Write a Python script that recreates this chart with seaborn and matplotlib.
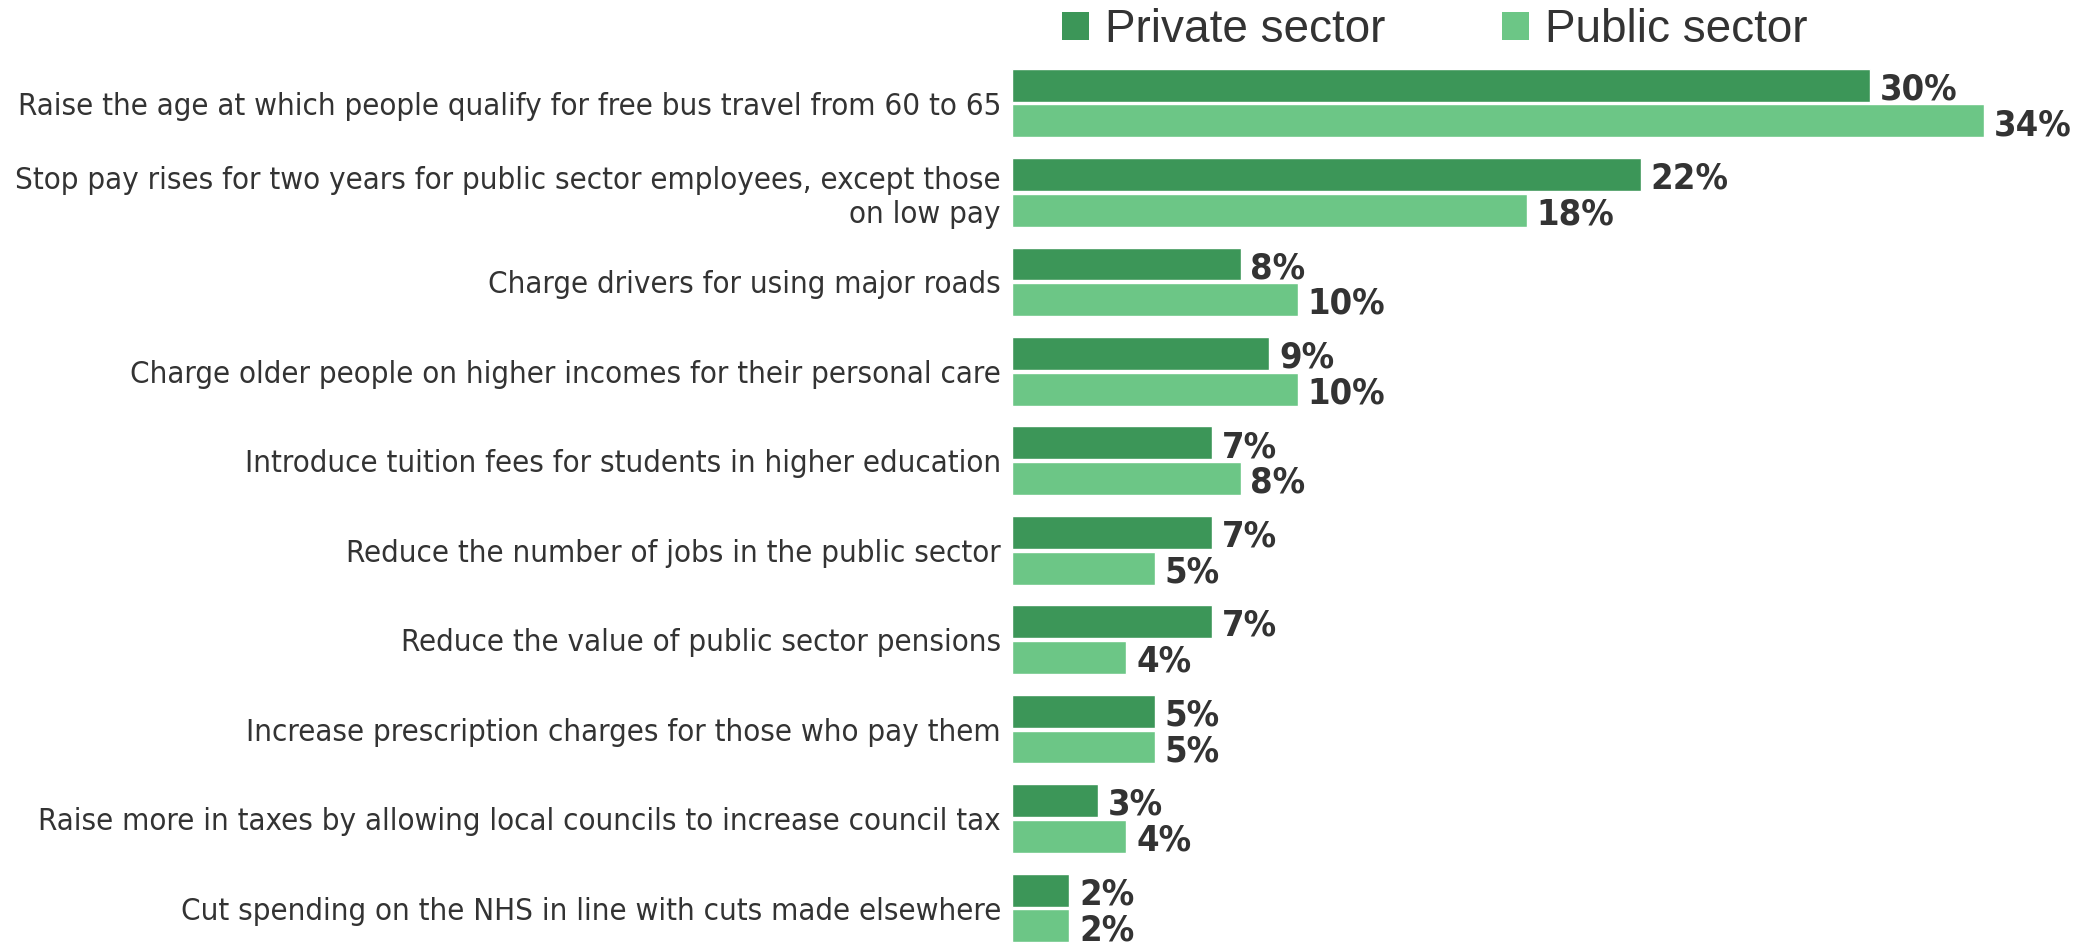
import matplotlib
matplotlib.use('Agg')
import matplotlib.pyplot as plt
from matplotlib import font_manager
from matplotlib.patches import Patch
import seaborn as sns
import pandas as pd

# Veriler
kategoriler = [
    'Raise the age at which people qualify for free bus travel from 60 to 65',
    'Stop pay rises for two years for public sector employees, except those\non low pay',
    'Charge drivers for using major roads',
    'Charge older people on higher incomes for their personal care',
    'Introduce tuition fees for students in higher education',
    'Reduce the number of jobs in the public sector',
    'Reduce the value of public sector pensions',
    'Increase prescription charges for those who pay them',
    'Raise more in taxes by allowing local councils to increase council tax',
    'Cut spending on the NHS in line with cuts made elsewhere',
]
ozel_sektor = [30, 22, 8, 9, 7, 7, 7, 5, 3, 2]
kamu_sektoru = [34, 18, 10, 10, 8, 5, 4, 5, 4, 2]
seriler = ['Private sector', 'Public sector']
renkler = ['#3c9658', '#6cc686']
yazi_rengi = '#333333'

sns.set_style('white')

# Dar font varsa onu kullan
isimler = {f.name for f in font_manager.fontManager.ttflist}
if 'Liberation Sans Narrow' in isimler:
    aile = 'Liberation Sans Narrow'
    gerilme = 'normal'
else:
    aile = 'DejaVu Sans'
    gerilme = 'condensed'
plt.rcParams['font.family'] = [aile, 'DejaVu Sans']
plt.rcParams['font.stretch'] = gerilme

df = pd.DataFrame({
    'Kategori': kategoriler * 2,
    'Deger': ozel_sektor + kamu_sektoru,
    'Seri': [seriler[0]] * len(kategoriler) + [seriler[1]] * len(kategoriler),
})

fig = plt.figure(figsize=(20.74, 9.47), dpi=100)
ax = fig.add_axes([1012 / 2074, 0.0, (1984 - 1012) / 2074, 1 - 58.3 / 947])

sns.barplot(data=df, y='Kategori', x='Deger', hue='Seri', orient='h',
            palette=renkler, width=0.8, gap=0.08, ax=ax, legend=False,
            saturation=1)

ax.set_xlim(0, 34)
ax.set_ylim(9.436, -0.5)
ax.set_xlabel('')
ax.set_ylabel('')
ax.set_xticks([])
sns.despine(ax=ax, left=True, bottom=True)
ax.tick_params(axis='y', length=0, pad=8, labelsize=22.4, labelcolor=yazi_rengi)

# Değer etiketleri
for cont in ax.containers:
    etiketler = ax.bar_label(cont, fmt='%d%%', padding=7, fontsize=26,
                             fontweight='bold', color=yazi_rengi, clip_on=False)
    for t in etiketler:
        x0, y0 = t.xyann
        t.xyann = (x0, y0 - 3)

tutamaclar = [Patch(facecolor=r, edgecolor='none') for r in renkler]
fig.legend(tutamaclar, seriler, loc='upper left', bbox_to_anchor=(1062 / 2074, 1 - 8 / 947),
           ncol=2, frameon=False, borderpad=0, borderaxespad=0,
           prop={'family': 'Liberation Sans', 'stretch': 'normal', 'size': 33},
           handlelength=0.59, handleheight=0.57, handletextpad=0.35,
           columnspacing=2.55, labelcolor=yazi_rengi)

fig.savefig('out.png', dpi=100)
